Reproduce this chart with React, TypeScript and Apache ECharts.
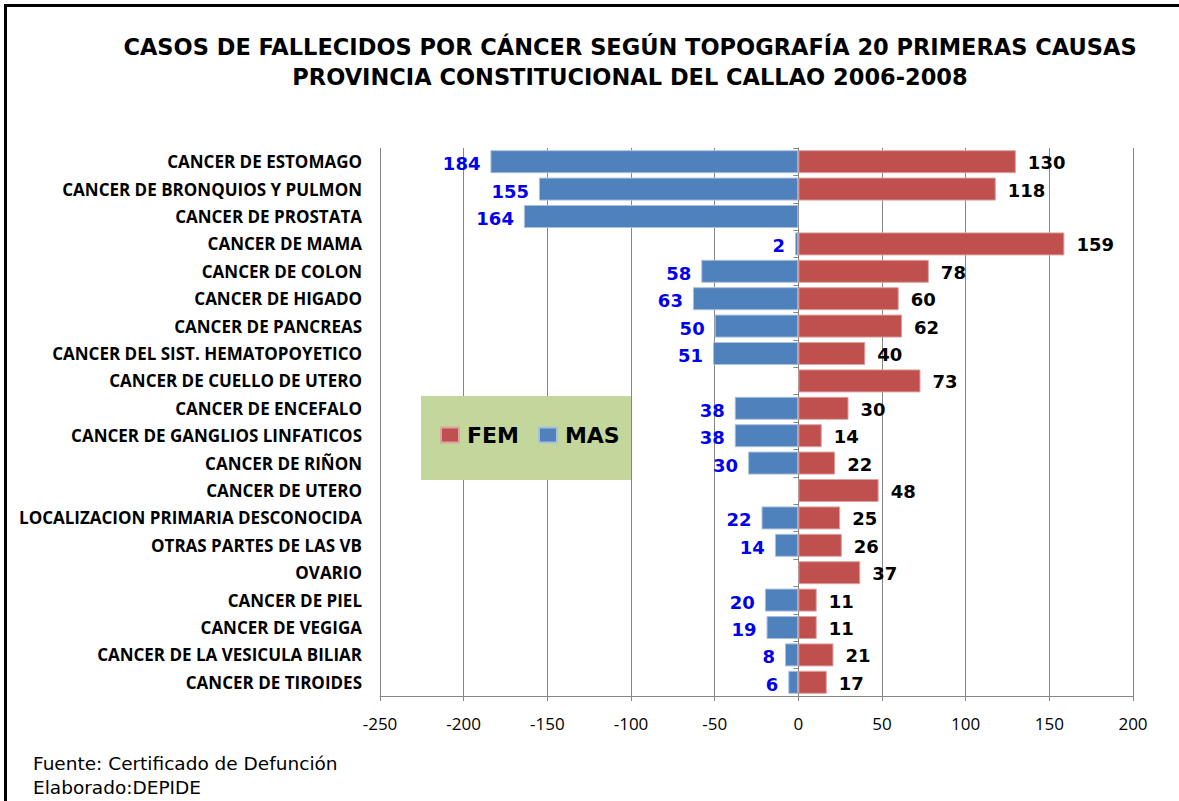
import React, { useEffect, useRef } from "react";
import * as echarts from "echarts";

const categories = [
  "CANCER DE ESTOMAGO",
  "CANCER DE BRONQUIOS Y PULMON",
  "CANCER DE PROSTATA",
  "CANCER DE MAMA",
  "CANCER DE COLON",
  "CANCER DE HIGADO",
  "CANCER DE PANCREAS",
  "CANCER DEL SIST. HEMATOPOYETICO",
  "CANCER DE CUELLO DE UTERO",
  "CANCER DE ENCEFALO",
  "CANCER DE GANGLIOS LINFATICOS",
  "CANCER DE RIÑON",
  "CANCER DE UTERO",
  "LOCALIZACION PRIMARIA DESCONOCIDA",
  "OTRAS PARTES DE LAS VB",
  "OVARIO",
  "CANCER DE PIEL",
  "CANCER DE VEGIGA",
  "CANCER DE LA VESICULA BILIAR",
  "CANCER DE TIROIDES",
];

const masValues: (number | null)[] = [184, 155, 164, 2, 58, 63, 50, 51, null, 38, 38, 30, null, 22, 14, null, 20, 19, 8, 6];
const femValues: (number | null)[] = [130, 118, null, 159, 78, 60, 62, 40, 73, 30, 14, 22, 48, 25, 26, 37, 11, 11, 21, 17];

const titleLines = [
  "CASOS DE FALLECIDOS POR CÁNCER SEGÚN TOPOGRAFÍA 20 PRIMERAS CAUSAS",
  "PROVINCIA CONSTITUCIONAL DEL CALLAO 2006-2008",
];
const footLines = ["Fuente: Certificado de Defunción", "Elaborado:DEPIDE"];

export default function App() {
  const ref = useRef<HTMLDivElement>(null);
  useEffect(() => {
    if (!ref.current) return;
    const chart = echarts.init(ref.current, null, { renderer: "svg" });
    const labelFont = "'DejaVu Sans', Verdana, sans-serif";
    chart.setOption({
      animation: false,
      backgroundColor: "#ffffff",
      title: {
        text: titleLines.join("\n"),
        left: 630,
        top: 32,
        textAlign: "center",
        padding: 0,
        textStyle: {
          fontFamily: labelFont,
          fontWeight: "bold",
          fontSize: 22.5,
          lineHeight: 30,
          color: "#000",
        },
      },
      legend: {
        data: ["FEM", "MAS"],
        left: 440,
        top: 424,
        padding: 0,
        itemWidth: 18,
        itemHeight: 15,
        itemGap: 19,
        icon: "rect",
        z: 5,
        textStyle: {
          fontFamily: labelFont,
          fontWeight: "bold",
          fontSize: 22,
          color: "#000",
          padding: [0, 0, 0, 3],
        },
      },
      graphic: [
        {
          type: "rect",
          z: 3,
          shape: { x: 421, y: 396, width: 210, height: 84 },
          style: { fill: "#c3d69b" },
        },
        {
          type: "rect",
          z: 10,
          shape: { x: 5.5, y: 5.5, width: 1300, height: 1000 },
          style: { fill: "none", stroke: "#000", lineWidth: 3 },
        },
        {
          type: "text",
          x: 33,
          y: 763,
          style: {
            text: footLines[0],
            font: "18.5px 'DejaVu Sans', sans-serif",
            fill: "#000",
            textVerticalAlign: "middle",
          },
        },
        {
          type: "text",
          x: 33,
          y: 787,
          style: {
            text: footLines[1],
            font: "18.5px 'DejaVu Sans', sans-serif",
            fill: "#000",
            textVerticalAlign: "middle",
          },
        },
      ],
      grid: { left: 380, right: 46, top: 148, bottom: 105, containLabel: false },
      xAxis: {
        type: "value",
        min: -250,
        max: 200,
        interval: 50,
        axisLine: { show: true, lineStyle: { color: "#868686" } },
        axisTick: { show: true, length: 5, lineStyle: { color: "#868686" } },
        axisLabel: {
          margin: 19,
          fontFamily: "'Open Sans', sans-serif",
          fontSize: 17,
          color: "#000",
        },
        splitLine: { show: true, lineStyle: { color: "#868686", width: 1 } },
      },
      yAxis: [
        {
          type: "category",
          data: categories,
          inverse: true,
          position: "left",
          axisLine: { show: false, onZero: false },
          axisTick: { show: false },
          axisLabel: {
            margin: 18,
            fontFamily: "'Open Sans', sans-serif",
            fontWeight: "bold",
            fontSize: 17,
            color: "#000",
          },
        },
        {
          type: "category",
          data: categories,
          inverse: true,
          position: "left",
          axisLine: { show: true, onZero: true, lineStyle: { color: "#868686" } },
          axisTick: { show: true, length: 5, lineStyle: { color: "#868686" } },
          axisLabel: { show: false },
          splitLine: { show: false },
        },
      ],
      series: [
        {
          name: "MAS",
          type: "bar",
          yAxisIndex: 0,
          barWidth: "84%",
          barGap: "-100%",
          data: masValues.map((v) => (v == null ? null : -v)),
          itemStyle: { color: "#4f81bd", borderColor: "#a9c0de", borderWidth: 1 },
          label: {
            show: true,
            position: "left",
            distance: 10,
            offset: [0, 2],
            formatter: (p: any) => String(Math.abs(p.value)),
            fontFamily: labelFont,
            fontWeight: "bold",
            fontSize: 18,
            color: "#0000ee",
          },
        },
        {
          name: "FEM",
          type: "bar",
          yAxisIndex: 0,
          barWidth: "84%",
          barGap: "-100%",
          data: femValues,
          itemStyle: { color: "#c0504d", borderColor: "#dca3a1", borderWidth: 1 },
          label: {
            show: true,
            position: "right",
            distance: 12,
            offset: [0, 1],
            fontFamily: labelFont,
            fontWeight: "bold",
            fontSize: 18,
            color: "#000",
          },
        },
      ],
    });
    return () => chart.dispose();
  }, []);
  return (
    <div
      ref={ref}
      style={{ position: "absolute", left: 0, top: 0, width: 1179, height: 801 }}
    />
  );
}
